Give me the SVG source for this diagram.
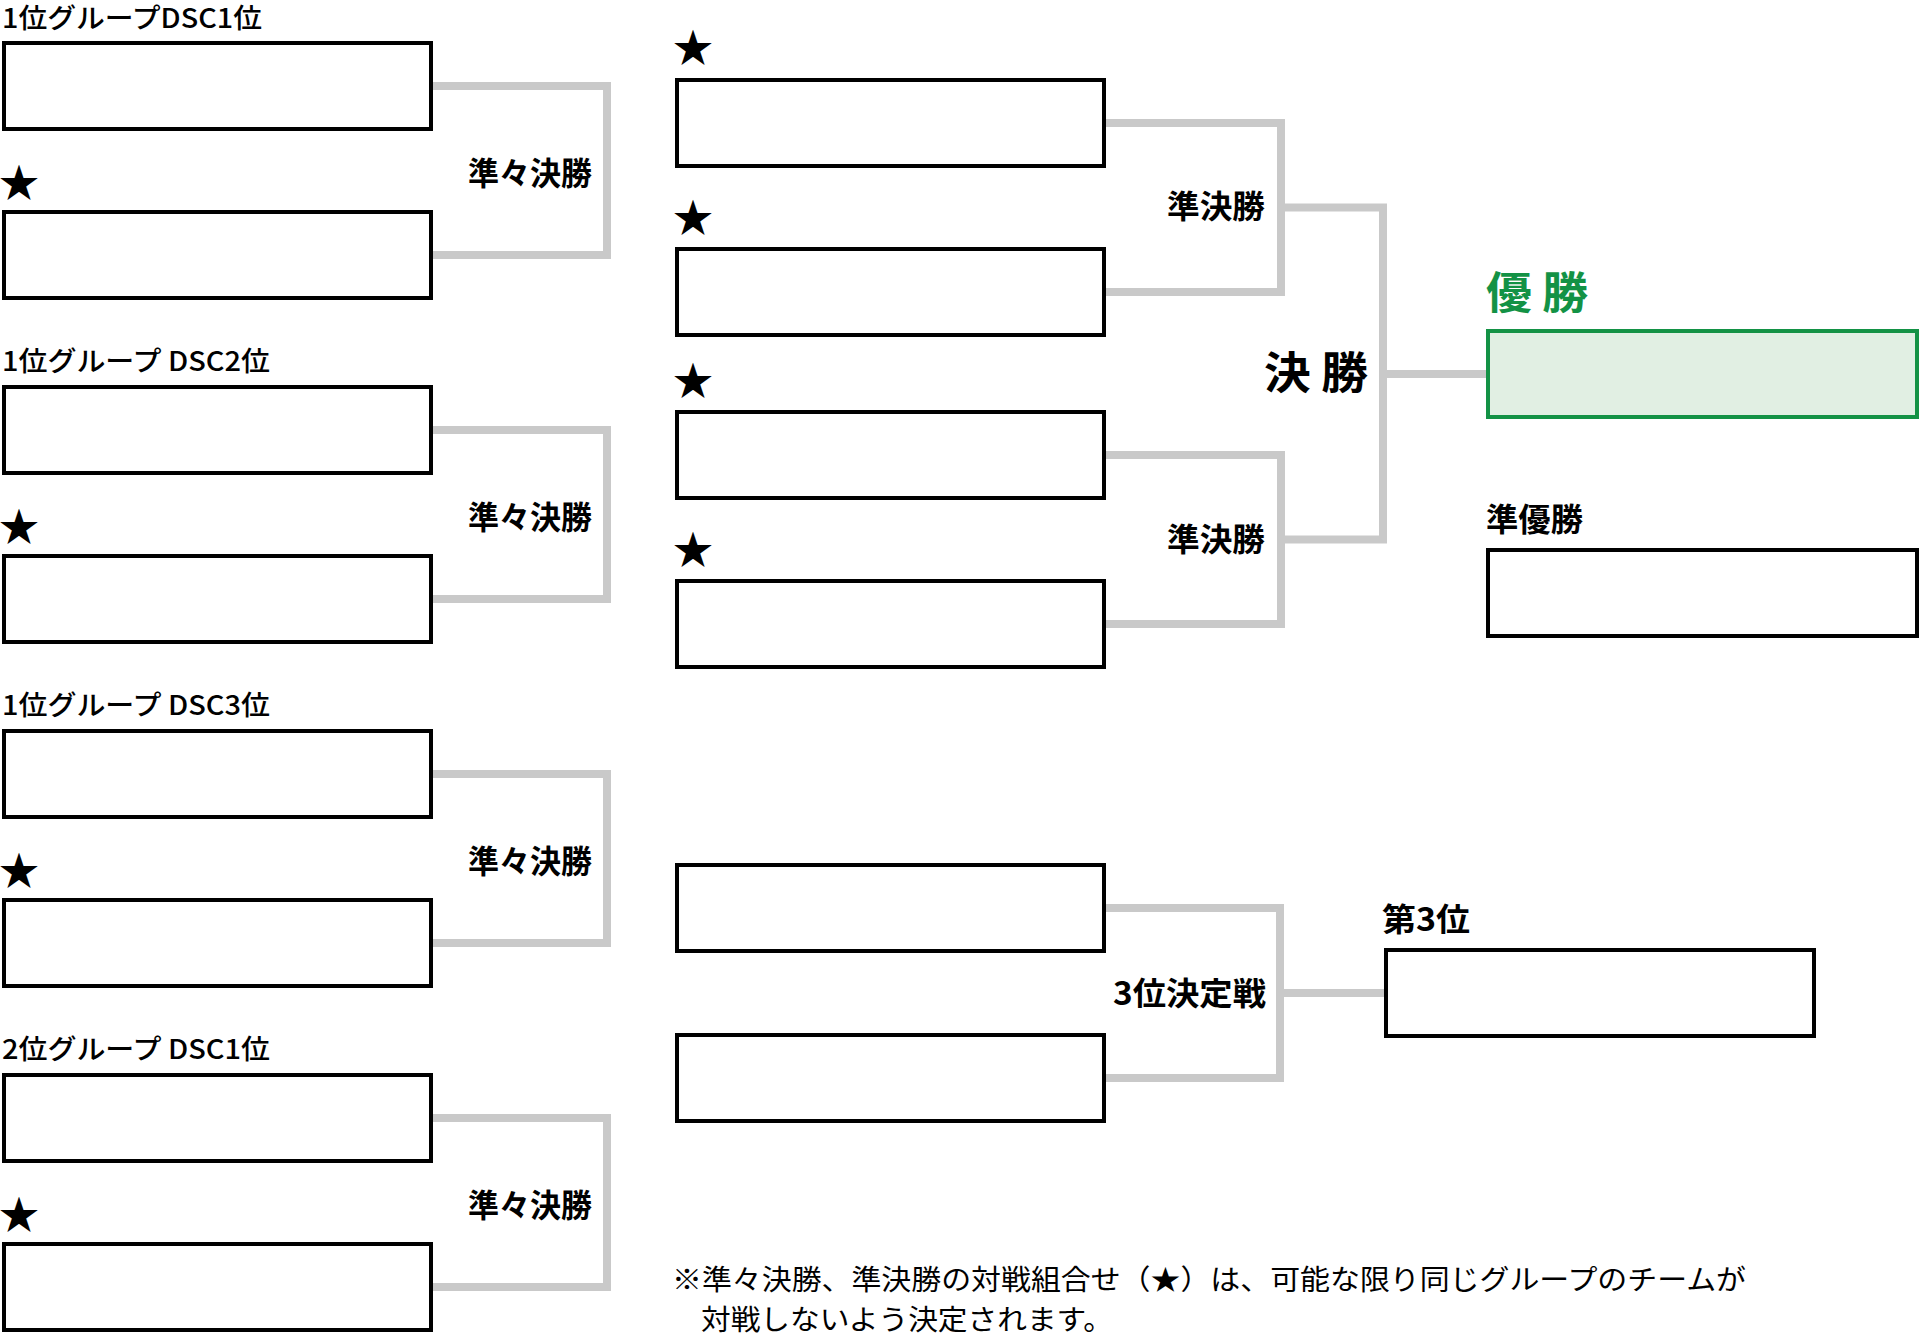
<svg xmlns="http://www.w3.org/2000/svg" width="1920" height="1335" viewBox="0 0 1920 1335">
<style>
text{font-family:"Noto Sans CJK JP","Noto Sans CJK SC",sans-serif;fill:#000}
.box{fill:#fff;stroke:#000;stroke-width:4}
.win{fill:#e1efe3;stroke:#139245;stroke-width:4}
.con{fill:none;stroke:#c9c9c9;stroke-width:8;stroke-linejoin:miter;stroke-linecap:butt}
.grp{font-size:27px;font-weight:500}
.lbl{font-size:32px;font-weight:700}
.big{font-size:44px;font-weight:700}
.star{font-size:40px}
.note{font-size:28px;font-weight:400}
.green{fill:#139245}
</style>
<rect width="1920" height="1335" fill="#fff"/>
<g id="connectors">
<path class="con" d="M433 86H607V255H433"/>
<path class="con" d="M433 430H607V599H433"/>
<path class="con" d="M433 774H607V943H433"/>
<path class="con" d="M433 1118H607V1287H433"/>
<path class="con" d="M1106 123H1281V292H1106"/>
<path class="con" d="M1106 455H1281V624H1106"/>
<path class="con" d="M1281 207.5H1383V539.5H1281"/>
<path class="con" d="M1383 374H1486"/>
<path class="con" d="M1106 908H1280V1078H1106"/>
<path class="con" d="M1280 993H1384"/>
</g>
<g id="qf1">
<text class="grp" x="2" y="28" textLength="260" lengthAdjust="spacingAndGlyphs">1位グループDSC1位</text>
<rect class="box" x="4" y="43" width="427" height="86"/>
<text class="star" x="-1" y="197">★</text>
<rect class="box" x="4" y="212" width="427" height="86"/>
<text class="lbl" x="468" y="185" textLength="124" lengthAdjust="spacingAndGlyphs">準々決勝</text>
</g>
<g id="qf2">
<text class="grp" x="2" y="371" textLength="268" lengthAdjust="spacingAndGlyphs">1位グループ DSC2位</text>
<rect class="box" x="4" y="387" width="427" height="86"/>
<text class="star" x="-1" y="541">★</text>
<rect class="box" x="4" y="556" width="427" height="86"/>
<text class="lbl" x="468" y="529" textLength="124" lengthAdjust="spacingAndGlyphs">準々決勝</text>
</g>
<g id="qf3">
<text class="grp" x="2" y="715" textLength="268" lengthAdjust="spacingAndGlyphs">1位グループ DSC3位</text>
<rect class="box" x="4" y="731" width="427" height="86"/>
<text class="star" x="-1" y="885">★</text>
<rect class="box" x="4" y="900" width="427" height="86"/>
<text class="lbl" x="468" y="873" textLength="124" lengthAdjust="spacingAndGlyphs">準々決勝</text>
</g>
<g id="qf4">
<text class="grp" x="2" y="1059" textLength="268" lengthAdjust="spacingAndGlyphs">2位グループ DSC1位</text>
<rect class="box" x="4" y="1075" width="427" height="86"/>
<text class="star" x="-1" y="1229">★</text>
<rect class="box" x="4" y="1244" width="427" height="86"/>
<text class="lbl" x="468" y="1217" textLength="124" lengthAdjust="spacingAndGlyphs">準々決勝</text>
</g>
<g id="sf1">
<text class="star" x="673" y="62">★</text>
<rect class="box" x="677" y="80" width="427" height="86"/>
<text class="star" x="673" y="232">★</text>
<rect class="box" x="677" y="249" width="427" height="86"/>
<text class="lbl" x="1167" y="218" textLength="98" lengthAdjust="spacingAndGlyphs">準決勝</text>
</g>
<g id="sf2">
<text class="star" x="673" y="395">★</text>
<rect class="box" x="677" y="412" width="427" height="86"/>
<text class="star" x="673" y="564">★</text>
<rect class="box" x="677" y="581" width="427" height="86"/>
<text class="lbl" x="1167" y="551" textLength="98" lengthAdjust="spacingAndGlyphs">準決勝</text>
</g>
<g id="final">
<text class="big" x="1264" y="389" textLength="104" lengthAdjust="spacingAndGlyphs">決 勝</text>
</g>
<g id="champion">
<text class="big green" x="1486" y="309" textLength="102" lengthAdjust="spacingAndGlyphs">優 勝</text>
<rect class="win" x="1488" y="331" width="429" height="86"/>
</g>
<g id="runnerup">
<text class="lbl" x="1486" y="531" textLength="97" lengthAdjust="spacingAndGlyphs">準優勝</text>
<rect class="box" x="1488" y="550" width="429" height="86"/>
</g>
<g id="thirdmatch">
<rect class="box" x="677" y="865" width="427" height="86"/>
<rect class="box" x="677" y="1035" width="427" height="86"/>
<text class="lbl" x="1113" y="1005" textLength="153" lengthAdjust="spacingAndGlyphs">3位決定戦</text>
</g>
<g id="third">
<text class="lbl" x="1382" y="931" textLength="88" lengthAdjust="spacingAndGlyphs">第3位</text>
<rect class="box" x="1386" y="950" width="428" height="86"/>
</g>
<g id="note">
<text class="note" x="672" y="1290" textLength="1074" lengthAdjust="spacingAndGlyphs">※準々決勝、準決勝の対戦組合せ（★）は、可能な限り同じグループのチームが</text>
<text class="note" x="701" y="1330" textLength="412" lengthAdjust="spacingAndGlyphs">対戦しないよう決定されます。</text>
</g>
</svg>
